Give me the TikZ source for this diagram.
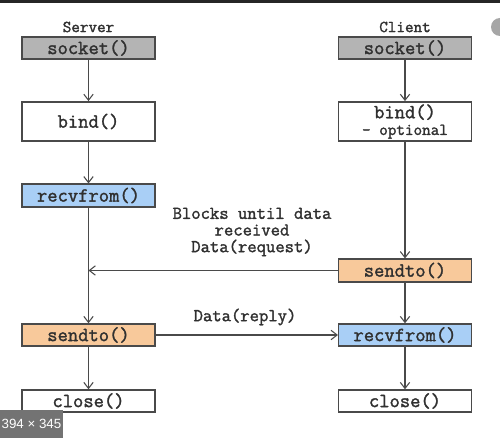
\documentclass[tikz,border=0pt]{standalone}
\usepackage{fontspec}
\setmainfont{Latin Modern Mono}[FakeBold=1.6,AutoFakeBold=1.6]
\setsansfont{Liberation Sans}
\usetikzlibrary{arrows.meta,calc}
\definecolor{lnc}{HTML}{4A4A4A}
\definecolor{sockgray}{HTML}{B4B4B4}
\definecolor{rblue}{HTML}{A9CFF6}
\definecolor{sorange}{HTML}{F8C99B}
\definecolor{txt}{HTML}{303030}
\begin{document}
\begin{tikzpicture}[x=0.75pt,y=-0.75pt,
  box/.style={draw=lnc,line width=1.1pt,minimum width=99.5pt,minimum height=16.5pt,
    inner sep=0pt,font=\fontsize{15}{15.5}\selectfont,text=txt},
  tallbox/.style={box,minimum height=29.5pt,align=center},
  lbl/.style={font=\fontsize{12.5}{13}\selectfont,text=txt,inner sep=0pt},
  note/.style={font=\fontsize{13.6}{13.5}\selectfont,text=txt,inner sep=0pt,align=center},
  arr/.style={draw=lnc,line width=1.1pt,-{Straight Barb[length=4.5pt,width=7pt,line width=0.8pt]}}]
\useasboundingbox (0,0) rectangle (500,438);
\fill[white] (0,0) rectangle (500,438);
\fill[black!85] (0,0) rectangle (500,3);
\fill[black!35] (500,27) circle (9);
% server
\node[lbl] (slab) at (88.5,27) {Server};
\node[box,fill=sockgray] (ssock) at (88.5,48) {socket()};
\node[tallbox] (sbind) at (88.5,121.5) {bind()};
\node[box,fill=rblue,minimum height=17pt] (srecv) at (88.5,195.5) {recvfrom()};
\node[box,fill=sorange] (ssend) at (88.5,335) {sendto()};
\node[box] (sclose) at (88.5,401) {close()};
% client
\node[lbl] (clab) at (405,27) {Client};
\node[box,fill=sockgray] (csock) at (405,48) {socket()};
\node[tallbox] (cbind) at (405,121.5) {bind()\\[-3pt]{\fontsize{12.5}{13}\selectfont - optional}};
\node[box,fill=sorange,minimum height=17pt] (csend) at (405,270.5) {sendto()};
\node[box,fill=rblue] (crecv) at (405,335) {recvfrom()};
\node[box] (cclose) at (405,401) {close()};
% flows
\draw[arr] (ssock) -- (sbind);
\draw[arr] (sbind) -- (srecv);
\draw[arr] (srecv) -- (ssend);
\draw[arr] (ssend) -- (sclose);
\draw[arr] (csock) -- (cbind);
\draw[arr] (cbind) -- (csend);
\draw[arr] (csend) -- (crecv);
\draw[arr] (crecv) -- (cclose);
\coordinate (join) at (srecv.south |- csend.west);
\draw[arr] (csend.west) -- (join);
\draw[arr] (ssend.east) -- (crecv.west);
\node[note] (blk) at (252,232) {Blocks until data\\[-1pt]received\\[-1pt]Data(request)};
\node[note] (rep) at (245,317) {Data(reply)};
% screenshot badge
\fill[black!55] (0,410) rectangle (63,438);
\node[font=\sffamily\fontsize{10}{11}\selectfont,text=white,inner sep=0pt] (badge) at (31.5,424) {394 × 345};
\end{tikzpicture}
\end{document}
